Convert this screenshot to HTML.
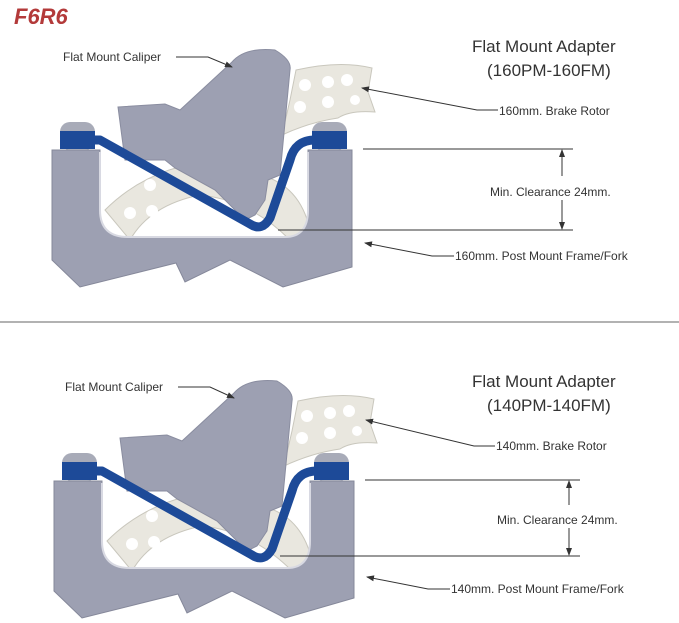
<!DOCTYPE html>
<html><head><meta charset="utf-8"><style>
body{margin:0;background:#fff;width:679px;height:623px;overflow:hidden}
svg{display:block}
text{font-family:"Liberation Sans",Arial,sans-serif;fill:#333}
</style></head><body>
<svg width="679" height="623" viewBox="0 0 679 623" xmlns="http://www.w3.org/2000/svg">
<defs>
<marker id="ar" markerWidth="8" markerHeight="6" refX="7" refY="3" orient="auto"><path d="M0,0 L8,3 L0,6 z" fill="#333"/></marker>
<g id="dia">
  <path d="M296,70 Q340,60 372,68 L368,92 L375,112 Q350,110 338,118 Q310,122 282,135 L290,100 Z" fill="#e9e7df" stroke="#c9c7bd"/>
  <path d="M105,210 Q150,165 220,160 L260,175 Q300,185 310,230 L290,240 Q250,200 200,195 Q150,205 130,240 Z" fill="#e9e7df" stroke="#c9c7bd"/>
  <circle cx="305" cy="85" r="6" fill="#fff"/><circle cx="328" cy="82" r="6" fill="#fff"/><circle cx="347" cy="80" r="6" fill="#fff"/>
  <circle cx="300" cy="107" r="6" fill="#fff"/><circle cx="328" cy="102" r="6" fill="#fff"/><circle cx="355" cy="100" r="5" fill="#fff"/>
  <circle cx="150" cy="185" r="6" fill="#fff"/><circle cx="130" cy="213" r="6" fill="#fff"/><circle cx="152" cy="211" r="6" fill="#fff"/>
  <path d="M118,107 L165,104 L180,110 L232,62 Q245,47 275,50 Q292,60 290,70 L280,175 L268,180 L265,200 L255,215 L245,220 L215,190 L175,168 L165,160 L125,160 Z" fill="#9da0b2" stroke="#8a8da0"/>
  <path d="M52,150 L100,150 L100,210 Q100,237 128,237 L285,237 Q308,237 308,210 L308,150 L352,150 L352,267 L283,287 L230,260 L185,282 L176,263 L80,287 L52,260 Z" fill="#9da0b2" stroke="#85889a"/>
  <path d="M100,152 L100,210 Q100,237 128,237 L285,237 Q308,237 308,210 L308,152" fill="none" stroke="#d8d9e2" stroke-width="2"/>
  <rect x="60" y="122" width="35" height="28" rx="10" fill="#a8abb8"/>
  <rect x="60" y="131" width="35" height="18" fill="#1d4a98"/>
  <rect x="312" y="122" width="35" height="28" rx="10" fill="#a8abb8"/>
  <rect x="312" y="131" width="35" height="18" fill="#1d4a98"/>
  <path d="M92,140 L100,140 L250,224 Q262,232 270,218 L290,160 Q295,140 315,140" fill="none" stroke="#1d4a98" stroke-width="9" stroke-linejoin="round"/>
</g>
</defs>

<text x="14" y="24" style="font-size:22px;font-weight:bold;font-style:italic;fill:#b33a3a">F6R6</text>

<use href="#dia"/>
<text x="63" y="61" font-size="12">Flat Mount Caliper</text>
<polyline points="176,57 208,57 232,67" fill="none" stroke="#333" marker-end="url(#ar)"/>
<text x="472" y="52" font-size="17">Flat Mount Adapter</text>
<text x="487" y="76" font-size="17">(160PM-160FM)</text>
<text x="499" y="115" font-size="12">160mm. Brake Rotor</text>
<polyline points="498,110 477,110 362,88" fill="none" stroke="#333" marker-end="url(#ar)"/>
<line x1="363" y1="149" x2="573" y2="149" stroke="#333"/>
<line x1="278" y1="230" x2="573" y2="230" stroke="#333"/>
<line x1="562" y1="176" x2="562" y2="150" stroke="#333" marker-end="url(#ar)"/>
<line x1="562" y1="200" x2="562" y2="229" stroke="#333" marker-end="url(#ar)"/>
<text x="490" y="196" font-size="12">Min. Clearance 24mm.</text>
<text x="455" y="260" font-size="12">160mm. Post Mount Frame/Fork</text>
<polyline points="454,256 432,256 365,243" fill="none" stroke="#333" marker-end="url(#ar)"/>

<line x1="0" y1="322" x2="679" y2="322" stroke="#999" stroke-width="1.5"/>

<use href="#dia" transform="translate(2,331)"/>
<text x="65" y="391" font-size="12">Flat Mount Caliper</text>
<polyline points="178,387 210,387 234,398" fill="none" stroke="#333" marker-end="url(#ar)"/>
<text x="472" y="387" font-size="17">Flat Mount Adapter</text>
<text x="487" y="411" font-size="17">(140PM-140FM)</text>
<text x="496" y="450" font-size="12">140mm. Brake Rotor</text>
<polyline points="495,446 474,446 366,420" fill="none" stroke="#333" marker-end="url(#ar)"/>
<line x1="365" y1="480" x2="580" y2="480" stroke="#333"/>
<line x1="280" y1="556" x2="580" y2="556" stroke="#333"/>
<line x1="569" y1="505" x2="569" y2="481" stroke="#333" marker-end="url(#ar)"/>
<line x1="569" y1="528" x2="569" y2="555" stroke="#333" marker-end="url(#ar)"/>
<text x="497" y="524" font-size="12">Min. Clearance 24mm.</text>
<text x="451" y="593" font-size="12">140mm. Post Mount Frame/Fork</text>
<polyline points="450,589 428,589 367,577" fill="none" stroke="#333" marker-end="url(#ar)"/>
</svg>
</body></html>
